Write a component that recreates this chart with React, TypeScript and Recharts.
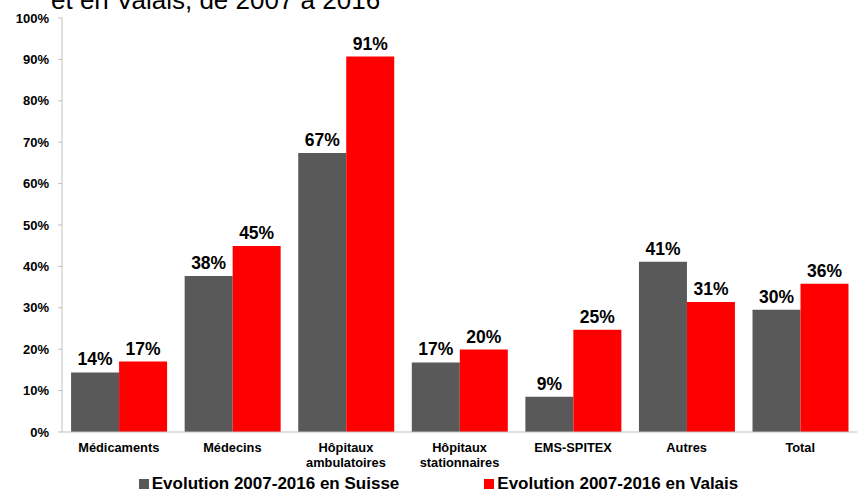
import { Bar, BarChart, LabelList, Legend, XAxis, YAxis } from "recharts";

const categories = [
  "Médicaments",
  "Médecins",
  "Hôpitaux\nambulatoires",
  "Hôpitaux\nstationnaires",
  "EMS-SPITEX",
  "Autres",
  "Total",
];
const suisse = [14.4, 37.7, 67.4, 16.8, 8.5, 41.1, 29.5];
const valais = [17.0, 44.9, 90.7, 19.9, 24.7, 31.4, 35.8];
const yTicks = [0, 10, 20, 30, 40, 50, 60, 70, 80, 90, 100];

const data = categories.map((name, i) => ({ name, suisse: suisse[i], valais: valais[i] }));

const GREY = "#595959";
const RED = "#ff0000";
const FONT = "'Liberation Sans', Arial, sans-serif";

function CategoryTick({ x, y, payload }: any) {
  const lines = String(payload.value).split("\n");
  return (
    <text x={x} y={y + 12} textAnchor="middle" fontFamily={FONT} fontWeight="bold" fontSize={12.8} fill="#000">
      {lines.map((line, i) => (
        <tspan key={i} x={x} dy={i === 0 ? 0 : 15}>
          {line}
        </tspan>
      ))}
    </text>
  );
}

function LegendBox() {
  const items = [
    { label: "Evolution 2007-2016 en Suisse", color: GREY },
    { label: "Evolution 2007-2016 en Valais", color: RED },
  ];
  return (
    <div
      style={{
        display: "flex",
        justifyContent: "center",
        gap: 85,
        height: 31,
        boxSizing: "border-box",
        paddingTop: 12,
        paddingLeft: 20,
        fontFamily: FONT,
      }}
    >
      {items.map((it) => (
        <div key={it.label} style={{ display: "flex", alignItems: "center", fontWeight: "bold", fontSize: 17, color: "#000", lineHeight: "19px" }}>
          <span style={{ width: 10, height: 10, background: it.color, marginRight: 3, display: "inline-block" }} />
          {it.label}
        </div>
      ))}
    </div>
  );
}

export default function App() {
  return (
    <div style={{ position: "absolute", left: 0, top: 0, width: 857, height: 493, overflow: "hidden", background: "#fff" }}>
      <div style={{ position: "absolute", left: 51, top: -15, fontFamily: FONT, fontSize: 26, color: "#000", whiteSpace: "nowrap" }}>
        et en Valais, de 2007 à 2016
      </div>
      <BarChart
        width={857}
        height={493}
        data={data}
        margin={{ top: 18, right: 0, bottom: 0, left: 0 }}
        barCategoryGap="8%"
        barGap={0}
      >
        <XAxis
          dataKey="name"
          interval={0}
          tick={<CategoryTick />}
          tickLine={false}
          axisLine={{ stroke: "#bfbfbf" }}
          height={30}
        />
        <YAxis
          width={62}
          domain={[0, 100]}
          ticks={yTicks}
          interval={0}
          tickFormatter={(v) => `${v}%`}
          tick={{ fontFamily: FONT, fontWeight: "bold", fontSize: 13, fill: "#000" }}
          tickLine={{ stroke: "#bfbfbf" }}
          tickSize={4}
          tickMargin={9}
          axisLine={{ stroke: "#bfbfbf" }}
        />
        <Legend verticalAlign="bottom" content={<LegendBox />} />
        <Bar dataKey="suisse" fill={GREY} isAnimationActive={false}>
          <LabelList
            dataKey="suisse"
            position="top"
            offset={7}
            formatter={(v: any) => `${Math.round(v)}%`}
            style={{ fontFamily: FONT, fontWeight: "bold", fontSize: 17.5, fill: "#000" }}
          />
        </Bar>
        <Bar dataKey="valais" fill={RED} isAnimationActive={false}>
          <LabelList
            dataKey="valais"
            position="top"
            offset={7}
            formatter={(v: any) => `${Math.round(v)}%`}
            style={{ fontFamily: FONT, fontWeight: "bold", fontSize: 17.5, fill: "#000" }}
          />
        </Bar>
      </BarChart>
    </div>
  );
}
